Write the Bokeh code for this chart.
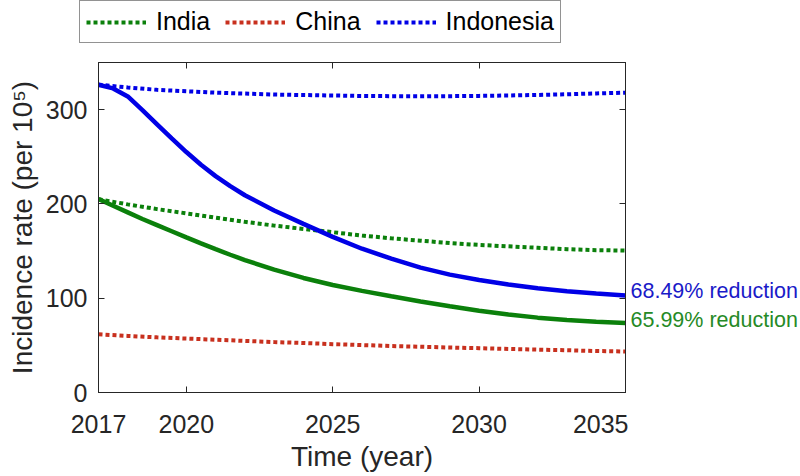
from bokeh.plotting import figure
from bokeh.models import FixedTicker, LinearAxis, Legend, LegendItem, Label, Range1d
from bokeh.layouts import column, row
from bokeh.embed import file_html
from bokeh.resources import INLINE

years = list(range(2017, 2036))
years_int = [2017, 2017.5, 2018, 2018.5, 2019, 2019.5, 2020, 2020.5, 2021, 2021.5] + list(range(2022, 2036))
india_base = [205, 199.5, 194.5, 190, 185.5, 181, 177, 173.5, 170, 166.5,
              163.5, 161, 158.5, 156.5, 155, 153.5, 152, 151, 150.5]
china_base = [61.7, 60, 58.5, 57.2, 56, 54.7, 53.5, 52.5, 51.3, 50.3,
              49.3, 48.5, 47.7, 47, 46.2, 45.5, 44.8, 44, 43.5]
indonesia_base = [326.5, 323.5, 321, 319.5, 318, 317, 316, 315.5, 315, 314.5,
                  314.3, 314.2, 314.3, 314.6, 315, 315.6, 316.3, 317.2, 318]
india_int = [205.3, 198, 191, 184, 177.5, 171, 164.5, 158.2, 152, 146.1,
             140.5, 130.3, 121.5, 114, 107.8, 102, 96.6, 91.5, 86.8, 82.7, 79.4, 76.8, 75, 73.7]
indonesia_int = [326.4, 322.5, 314, 299.5, 284.5, 269.5, 255, 241.5, 229.5, 218.8,
                 209.2, 193.1, 178.8, 165, 152.5, 142, 132.5, 125, 119.3, 114.5, 110.5, 107.3, 104.9, 103]
x_ticks = [2017, 2020, 2025, 2030, 2035]
y_ticks = [0, 100, 200, 300]
legend_labels = ["India", "China", "Indonesia"]
reduction_labels = ["68.49% reduction", "65.99% reduction"]

FONT = "Liberation Sans"
AX = "#262626"
GREEN = "#0b800b"
RED = "#c8301e"
BLUE = "#0000e6"
DOT = dict(line_width=4, line_dash="4 3")

# ---- main chart ----
p = figure(width=628, height=422, output_backend="svg", toolbar_location=None,
           x_range=Range1d(2017, 2035), y_range=Range1d(0, 350),
           min_border_left=98, min_border_right=3, min_border_top=8, min_border_bottom=84)
p.xgrid.visible = False
p.ygrid.visible = False
p.outline_line_color = AX
p.outline_line_width = 1
p.background_fill_color = "white"
p.border_fill_color = "white"

p.line(years, india_base, line_color=GREEN, **DOT)
p.line(years, china_base, line_color=RED, **DOT)
p.line(years, indonesia_base, line_color=BLUE, **DOT)
p.line(years_int, india_int, line_color=GREEN, line_width=4.5)
p.line(years_int, indonesia_int, line_color=BLUE, line_width=4.5)

def style_axis(ax, show_labels=True):
    ax.axis_line_color = AX
    ax.major_tick_line_color = AX
    ax.major_tick_in = 6
    ax.major_tick_out = 0
    ax.minor_tick_line_color = None
    ax.major_label_text_font = FONT
    ax.major_label_text_font_size = "25px" if show_labels else "1px"
    ax.major_label_text_color = AX if show_labels else None
    ax.axis_label_text_font = FONT
    ax.axis_label_text_font_size = "28px"
    ax.axis_label_text_font_style = "normal"
    ax.axis_label_text_color = AX
    if not show_labels:
        ax.major_label_standoff = 0

xa = p.xaxis[0]
xa.ticker = FixedTicker(ticks=x_ticks)
style_axis(xa)
xa.major_label_standoff = 22
xa.axis_label = "Time (year)"
xa.axis_label_standoff = 5

ya = p.yaxis[0]
ya.ticker = FixedTicker(ticks=y_ticks)
style_axis(ya)
ya.major_label_standoff = 11
ya.axis_label = "Incidence rate (per 10\u2075)"
ya.axis_label_standoff = 5

top = LinearAxis(ticker=FixedTicker(ticks=x_ticks))
style_axis(top, show_labels=False)
p.add_layout(top, "above")

right = LinearAxis(ticker=FixedTicker(ticks=y_ticks))
style_axis(right, show_labels=False)
p.add_layout(right, "right")

# ---- end-of-line annotations (panel to the right, shared y scale) ----
pr = figure(width=172, height=422, output_backend="svg", toolbar_location=None,
            x_range=Range1d(0, 1), y_range=p.y_range, x_axis_type=None, y_axis_type=None,
            min_border_left=0, min_border_right=0, min_border_top=8, min_border_bottom=84)
pr.xgrid.visible = False
pr.ygrid.visible = False
pr.outline_line_color = None
pr.border_fill_color = "white"
pr.add_layout(Label(x=2, x_units="screen", y=indonesia_int[-1], text=reduction_labels[0], y_offset=4,
                    text_baseline="middle", text_font=FONT, text_font_size="21.5px", text_color="#1a1ac8"))
pr.add_layout(Label(x=2, x_units="screen", y=india_int[-1], text=reduction_labels[1], y_offset=3,
                    text_baseline="middle", text_font=FONT, text_font_size="21.5px", text_color="#268a26"))

# ---- legend strip above (its lines lie outside its own view; only the key shows) ----
pl = figure(width=800, height=54, output_backend="svg", toolbar_location=None,
            x_range=Range1d(2017, 2035), y_range=Range1d(1000, 1001), x_axis_type=None, y_axis_type=None,
            min_border=0)
pl.xgrid.visible = False
pl.ygrid.visible = False
pl.outline_line_color = None
pl.border_fill_color = "white"
l_india = pl.line(years, india_base, line_color=GREEN, **DOT)
l_china = pl.line(years, china_base, line_color=RED, **DOT)
l_indo = pl.line(years, indonesia_base, line_color=BLUE, **DOT)
legend = Legend(items=[LegendItem(label=legend_labels[0], renderers=[l_india]),
                       LegendItem(label=legend_labels[1], renderers=[l_china]),
                       LegendItem(label=legend_labels[2], renderers=[l_indo])],
                orientation="horizontal", location=(79, 11))
legend.label_text_font = FONT
legend.label_text_font_size = "25px"
legend.label_text_color = "black"
legend.glyph_width = 60
legend.label_standoff = 10
legend.spacing = 15
legend.padding = 6
legend.margin = 0
legend.border_line_color = AX
legend.border_line_width = 1
legend.background_fill_color = "white"
legend.background_fill_alpha = 1
pl.add_layout(legend, "center")

layout = column(pl, row(p, pr, spacing=0), spacing=0)
open("out.html", "w").write(file_html(layout, INLINE))
